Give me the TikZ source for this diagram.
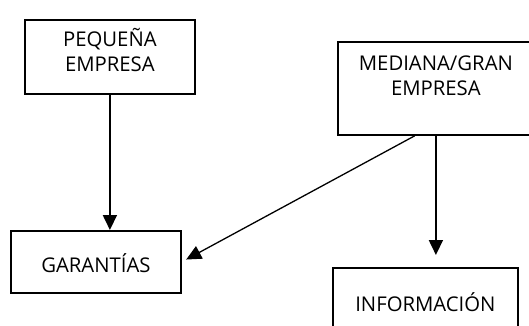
\documentclass[tikz,border=0pt]{standalone}
\usepackage{fontspec}
\setmainfont{Open Sans}
\usetikzlibrary{calc}
\usetikzlibrary{arrows.meta}

\begin{document}
\begin{tikzpicture}[x=1pt,y=-1pt]
  \tikzset{flecha/.style={-{Triangle[length=15pt,width=14pt]}, line width=1.8pt}};
  \tikzset{caja/.style={rectangle, draw=black, line width=1.8pt, align=center, inner ysep=0pt,
      font=\fontsize{20.3}{25}\selectfont, text=black, anchor=north west}};
  \path[use as bounding box, clip] (0,0) rectangle (529,325);

  \node[caja, minimum width=170pt, text height=52pt, text depth=22pt] (peq) at (24,19) {PEQUEÑA\\EMPRESA};
  \node[caja, minimum width=170pt, text height=42pt, text depth=20pt] (gar) at (10,230) {GARANTÍAS};
  \node[caja, minimum width=196pt, text height=54pt, text depth=39pt] (med) at (337,41) {MEDIANA/GRAN\\EMPRESA};
  \node[caja, minimum width=185pt, text height=44pt, text depth=20pt] (inf) at (332,267) {INFORMACIÓN};

  \coordinate (M) at ($(med.south west)!.393!(med.south east)$);

  \draw [flecha] (peq.south) -- (peq.south |- gar.north);
  \draw [flecha, shorten >=12pt] (med.south) -- (med.south |- inf.north);
  \draw [flecha, line width=1.3pt, shorten >=5pt] (M) -- (gar.east);

\end{tikzpicture}
\end{document}
